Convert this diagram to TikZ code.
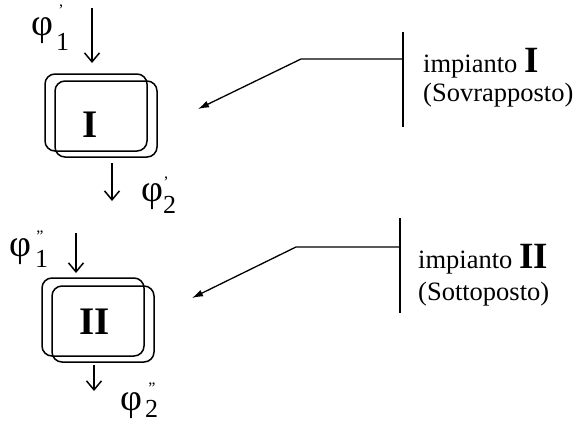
\documentclass[tikz,border=0pt]{standalone}
\usepackage{fontspec}
\setmainfont{Liberation Serif}
\usetikzlibrary{arrows.meta}

\begin{document}
\begin{tikzpicture}[x=1pt,y=-1pt,
  frame/.style={draw, rounded corners=10pt, line width=1.5pt, inner sep=0pt},
  flow/.style={-{Straight Barb[length=9pt,width=15pt]}, line width=1.5pt},
  lead/.style={-{Latex[length=11pt,width=7pt]}, line width=1.3pt},
  bar/.style={line width=1.6pt},
  roman/.style={font=\fontsize{39}{39}\selectfont\bfseries, inner sep=0pt},
  phisym/.style={font=\fontsize{38}{38}\selectfont, inner sep=0pt},
  phisub/.style={font=\fontsize{26}{26}\selectfont, inner sep=0pt, anchor=base west},
  phiprime/.style={font=\fontsize{16}{16}\selectfont, inner sep=0pt, anchor=north},
  caption/.style={font=\fontsize{26.5}{26.5}\selectfont, inner sep=0pt, anchor=base west}]
\useasboundingbox (0,0) rectangle (574,423);

% ---- plant I (two overlapping rounded frames) ----
\node[frame, minimum width=102pt, minimum height=77pt] (b1a) at (96,112.5) {};
\node[frame, minimum width=102pt, minimum height=76pt] (b1b) at (106,119) {};
\node[roman] (n1) at (90,125) {I};

\coordinate (in1s) at (92,8);   \coordinate (in1e) at (92,63);
\coordinate (out1s) at (112,163); \coordinate (out1e) at (112,201);
\draw[flow] (in1s) -- (in1e);
\draw[flow] (out1s) -- (out1e);

\node[phisym] (f11) at (42,31) {φ};
\node[phisub] (f11s) at (56,50) {1};
\node[phiprime] (f11p) at (61,5) {'};
\node[phisym] (f12) at (152,197) {φ};
\node[phisub] (f12s) at (163,213) {2};
\node[phiprime] (f12p) at (166,177) {'};

% ---- plant II ----
\node[frame, minimum width=102pt, minimum height=78pt] (b2a) at (93,317) {};
\node[frame, minimum width=102pt, minimum height=76pt] (b2b) at (103,324) {};
\node[roman] (n2) at (95,322) {II};

\coordinate (in2s) at (76,233);  \coordinate (in2e) at (76,273);
\coordinate (out2s) at (94,365); \coordinate (out2e) at (94,391);
\draw[flow] (in2s) -- (in2e);
\draw[flow] (out2s) -- (out2e);

\node[phisym] (f21) at (20,252) {φ};
\node[phisub] (f21s) at (35,267) {1};
\node[phiprime] (f21p) at (40,231) {"};
\node[phisym] (f22) at (131,406) {φ};
\node[phisub] (f22s) at (145,417) {2};
\node[phiprime] (f22p) at (152,383) {"};

% ---- callout for plant I ----
\coordinate (t1) at (403,32);  \coordinate (t1b) at (403,127);
\coordinate (k1) at (403,59);  \coordinate (e1) at (301,59);
\coordinate (tip1) at (198,109);
\draw[bar] (t1) -- (t1b);
\draw[lead] (k1) -- (e1) -- (tip1);
\node[caption] (c1a) at (423,72) {impianto \fontsize{37}{37}\selectfont\bfseries I};
\node[caption] (c1b) at (423,101) {(Sovrapposto)};

% ---- callout for plant II ----
\coordinate (t2) at (400,218); \coordinate (t2b) at (400,313);
\coordinate (k2) at (400,247); \coordinate (e2) at (296,247);
\coordinate (tip2) at (192,298);
\draw[bar] (t2) -- (t2b);
\draw[lead] (k2) -- (e2) -- (tip2);
\node[caption] (c2a) at (418,268) {impianto \fontsize{37}{37}\selectfont\bfseries II};
\node[caption] (c2b) at (418,300) {(Sottoposto)};
\end{tikzpicture}
\end{document}
